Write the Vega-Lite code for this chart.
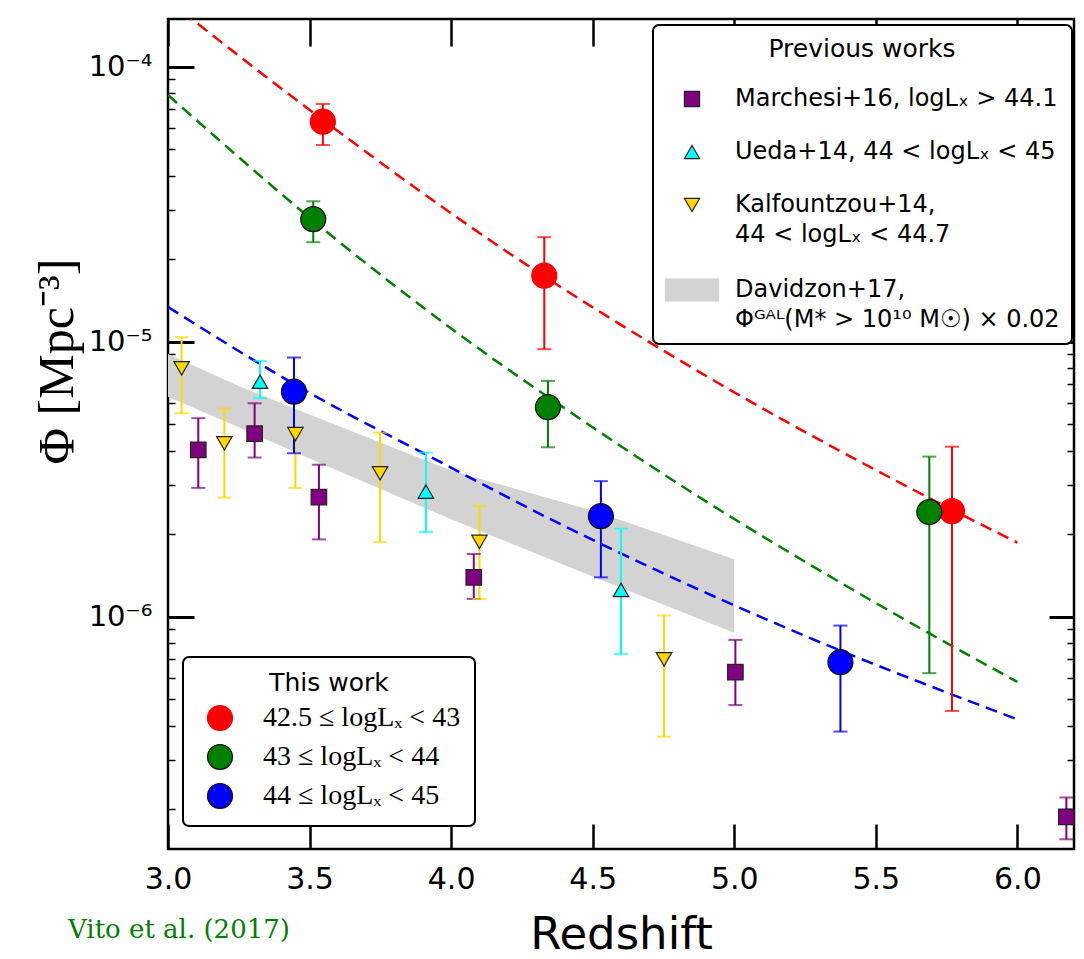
{
  "$schema": "https://vega.github.io/schema/vega-lite/v6.json",
  "width": 906,
  "height": 830,
  "autosize": {"type": "none"},
  "padding": {"left": 168, "top": 19, "right": 10, "bottom": 110},
  "background": "white",
  "title": {"text": "Vito et al. (2017)", "orient": "bottom", "anchor": "start", "frame": "group", "font": "DejaVu Serif", "fontSize": 26, "fontWeight": "normal", "color": "#008000", "dx": -100, "dy": -40, "offset": 0},
  "config": {
    "view": {"stroke": "black", "strokeWidth": 2.5},
    "axis": {"grid": false, "domain": false, "zindex": 2, "tickColor": "black", "labelColor": "black", "titleColor": "black", "labelFlush": false, "labelOverlap": false, "labelBound": false},
    "legend": {"strokeWidth": 2},
    "style": {"guide-label": {"lineHeight": 30}}
  },
  "datasets": {
    "band": [
      {"z": 3.0, "lo": 6.31e-6, "hi": 9.02e-6},
      {"z": 3.25, "lo": 4.88e-6, "hi": 6.9e-6},
      {"z": 3.5, "lo": 3.76e-6, "hi": 5.44e-6},
      {"z": 4.0, "lo": 2.26e-6, "hi": 3.40e-6},
      {"z": 4.5, "lo": 1.40e-6, "hi": 2.43e-6},
      {"z": 5.0, "lo": 8.73e-7, "hi": 1.616e-6}
    ],
    "fits": [
      {"z": 3.0, "phi": 1.748e-4, "bin": "42.5 ≤ logLₓ < 43"},
      {"z": 3.089, "phi": 1.478e-4, "bin": "42.5 ≤ logLₓ < 43"},
      {"z": 3.619, "phi": 5.64e-5, "bin": "42.5 ≤ logLₓ < 43"},
      {"z": 4.197, "phi": 2.125e-5, "bin": "42.5 ≤ logLₓ < 43"},
      {"z": 4.845, "phi": 8.11e-6, "bin": "42.5 ≤ logLₓ < 43"},
      {"z": 5.634, "phi": 2.888e-6, "bin": "42.5 ≤ logLₓ < 43"},
      {"z": 6.0, "phi": 1.86e-6, "bin": "42.5 ≤ logLₓ < 43"},
      {"z": 3.0, "phi": 7.89e-5, "bin": "43 ≤ logLₓ < 44"},
      {"z": 3.596, "phi": 2.344e-5, "bin": "43 ≤ logLₓ < 44"},
      {"z": 4.04, "phi": 1.042e-5, "bin": "43 ≤ logLₓ < 44"},
      {"z": 4.444, "phi": 5.34e-6, "bin": "43 ≤ logLₓ < 44"},
      {"z": 4.809, "phi": 3.012e-6, "bin": "43 ≤ logLₓ < 44"},
      {"z": 5.481, "phi": 1.15e-6, "bin": "43 ≤ logLₓ < 44"},
      {"z": 6.0, "phi": 5.79e-7, "bin": "43 ≤ logLₓ < 44"},
      {"z": 3.0, "phi": 1.337e-5, "bin": "44 ≤ logLₓ < 45"},
      {"z": 3.513, "phi": 6.4e-6, "bin": "44 ≤ logLₓ < 45"},
      {"z": 3.914, "phi": 3.873e-6, "bin": "44 ≤ logLₓ < 45"},
      {"z": 4.385, "phi": 2.173e-6, "bin": "44 ≤ logLₓ < 45"},
      {"z": 5.186, "phi": 9.075e-7, "bin": "44 ≤ logLₓ < 45"},
      {"z": 6.0, "phi": 4.23e-7, "bin": "44 ≤ logLₓ < 45"}
    ],
    "thiswork": [
      {"z": 3.547, "phi": 6.31e-5, "lo": 5.19e-5, "hi": 7.32e-5, "bin": "42.5 ≤ logLₓ < 43"},
      {"z": 4.329, "phi": 1.738e-5, "lo": 9.39e-6, "hi": 2.40e-5, "bin": "42.5 ≤ logLₓ < 43"},
      {"z": 5.769, "phi": 2.42e-6, "lo": 4.54e-7, "hi": 4.15e-6, "bin": "42.5 ≤ logLₓ < 43"},
      {"z": 3.513, "phi": 2.79e-5, "lo": 2.30e-5, "hi": 3.24e-5, "bin": "43 ≤ logLₓ < 44"},
      {"z": 4.342, "phi": 5.78e-6, "lo": 4.13e-6, "hi": 7.20e-6, "bin": "43 ≤ logLₓ < 44"},
      {"z": 5.689, "phi": 2.40e-6, "lo": 6.23e-7, "hi": 3.82e-6, "bin": "43 ≤ logLₓ < 44"},
      {"z": 3.445, "phi": 6.58e-6, "lo": 3.93e-6, "hi": 8.75e-6, "bin": "44 ≤ logLₓ < 45"},
      {"z": 4.529, "phi": 2.32e-6, "lo": 1.39e-6, "hi": 3.11e-6, "bin": "44 ≤ logLₓ < 45"},
      {"z": 5.375, "phi": 6.83e-7, "lo": 3.82e-7, "hi": 9.28e-7, "bin": "44 ≤ logLₓ < 45"}
    ],
    "prev": [
      {"z": 3.107, "phi": 4.04e-6, "lo": 2.94e-6, "hi": 5.27e-6, "work": "Marchesi+16"},
      {"z": 3.306, "phi": 4.63e-6, "lo": 3.79e-6, "hi": 5.97e-6, "work": "Marchesi+16"},
      {"z": 3.533, "phi": 2.72e-6, "lo": 1.91e-6, "hi": 3.57e-6, "work": "Marchesi+16"},
      {"z": 4.08, "phi": 1.39e-6, "lo": 1.16e-6, "hi": 1.69e-6, "work": "Marchesi+16"},
      {"z": 5.004, "phi": 6.28e-7, "lo": 4.77e-7, "hi": 8.23e-7, "work": "Marchesi+16"},
      {"z": 6.173, "phi": 1.87e-7, "lo": 1.55e-7, "hi": 2.20e-7, "work": "Marchesi+16"},
      {"z": 3.325, "phi": 7.15e-6, "lo": 6.23e-6, "hi": 8.51e-6, "work": "Ueda+14"},
      {"z": 3.911, "phi": 2.85e-6, "lo": 2.03e-6, "hi": 3.95e-6, "work": "Ueda+14"},
      {"z": 4.6, "phi": 1.25e-6, "lo": 7.32e-7, "hi": 2.09e-6, "work": "Ueda+14"},
      {"z": 3.048, "phi": 8.0e-6, "lo": 5.49e-6, "hi": 1.038e-5, "work": "Kalfountzou+14"},
      {"z": 3.199, "phi": 4.27e-6, "lo": 2.71e-6, "hi": 5.71e-6, "work": "Kalfountzou+14"},
      {"z": 3.45, "phi": 4.61e-6, "lo": 2.94e-6, "hi": 4.61e-6, "work": "Kalfountzou+14"},
      {"z": 3.749, "phi": 3.32e-6, "lo": 1.87e-6, "hi": 4.67e-6, "work": "Kalfountzou+14"},
      {"z": 4.1, "phi": 1.87e-6, "lo": 1.16e-6, "hi": 2.53e-6, "work": "Kalfountzou+14"},
      {"z": 4.752, "phi": 7.0e-7, "lo": 3.66e-7, "hi": 1.01e-6, "work": "Kalfountzou+14"}
    ]
  },
  "resolve": {
    "scale": {"color": "independent", "fill": "independent", "stroke": "independent", "shape": "independent"},
    "axis": {"x": "independent", "y": "independent"}
  },
  "layer": [
    {
      "data": {"name": "band"},
      "mark": {"type": "area", "color": "#d3d3d3", "opacity": 1},
      "encoding": {
        "x": {"field": "z", "type": "quantitative", "scale": {"type": "linear", "domain": [3, 6.2], "nice": false, "zero": false},
          "axis": {"orient": "bottom", "values": [3, 3.5, 4, 4.5, 5, 5.5, 6], "format": ".1f", "tickSize": -25, "tickWidth": 2.5, "labelPadding": 40, "labelFont": "DejaVu Sans", "labelFontSize": 30, "title": "Redshift", "titleFont": "DejaVu Sans", "titleFontSize": 45, "titleFontWeight": "normal", "titlePadding": 18}},
        "y": {"field": "hi", "type": "quantitative", "scale": {"type": "log", "domain": [1.429e-7, 1.491e-4], "nice": false},
          "axis": {"orient": "left", "values": [1e-6, 1e-5, 1e-4], "tickSize": -26, "tickWidth": 3, "labelPadding": 42, "labelFont": "DejaVu Sans", "labelFontSize": 29, "labelExpr": "datum.value < 5e-6 ? '10⁻⁶' : datum.value < 5e-5 ? '10⁻⁵' : '10⁻⁴'", "title": "Φ [Mpc⁻³]", "titleFont": "Liberation Serif", "titleFontSize": 50, "titleFontWeight": "normal", "titleAngle": -90, "titleX": -111, "titleY": 342, "titleAlign": "center", "titleBaseline": "middle"}},
        "y2": {"field": "lo"}
      }
    },
    {
      "data": {"name": "fits"},
      "mark": {"type": "line", "strokeDash": [12, 7], "strokeWidth": 2.5, "clip": true, "interpolate": "monotone"},
      "encoding": {
        "x": {"field": "z", "type": "quantitative", "scale": {"type": "linear", "domain": [3, 6.2], "nice": false, "zero": false},
          "axis": {"orient": "top", "values": [3, 3.5, 4, 4.5, 5, 5.5, 6], "tickSize": -27, "tickWidth": 2.5, "labels": false, "title": null}},
        "y": {"field": "phi", "type": "quantitative", "scale": {"type": "log", "domain": [1.429e-7, 1.491e-4], "nice": false},
          "axis": {"orient": "left", "values": [2e-7, 3e-7, 4e-7, 5e-7, 6e-7, 7e-7, 8e-7, 9e-7, 2e-6, 3e-6, 4e-6, 5e-6, 6e-6, 7e-6, 8e-6, 9e-6, 2e-5, 3e-5, 4e-5, 5e-5, 6e-5, 7e-5, 8e-5, 9e-5], "tickSize": -7, "tickWidth": 1.5, "labels": false, "title": null}},
        "color": {"field": "bin", "type": "nominal", "scale": {"domain": ["42.5 ≤ logLₓ < 43", "43 ≤ logLₓ < 44", "44 ≤ logLₓ < 45"], "range": ["#ff0000", "#008000", "#0000ff"]}, "legend": null}
      }
    },
    {
      "data": {"name": "prev"},
      "mark": {"type": "rule", "strokeWidth": 2},
      "encoding": {
        "x": {"field": "z", "type": "quantitative", "scale": {"type": "linear", "domain": [3, 6.2], "nice": false, "zero": false}, "axis": null},
        "y": {"field": "lo", "type": "quantitative", "scale": {"type": "log", "domain": [1.429e-7, 1.491e-4], "nice": false},
          "axis": {"orient": "right", "values": [1e-6, 1e-5, 1e-4], "tickSize": -25, "tickWidth": 3, "labels": false, "title": null}},
        "y2": {"field": "hi"},
        "color": {"field": "work", "type": "nominal", "scale": {"domain": ["Marchesi+16", "Ueda+14", "Kalfountzou+14", "Davidzon+17"], "range": ["#800080", "#00ffff", "#ffd700", "#d3d3d3"]}, "legend": null}
      }
    },
    {
      "data": {"name": "prev"},
      "mark": {"type": "tick", "orient": "horizontal", "size": 14, "thickness": 2},
      "encoding": {
        "x": {"field": "z", "type": "quantitative", "scale": {"type": "linear", "domain": [3, 6.2], "nice": false, "zero": false}, "axis": null},
        "y": {"field": "lo", "type": "quantitative", "scale": {"type": "log", "domain": [1.429e-7, 1.491e-4], "nice": false},
          "axis": {"orient": "right", "values": [2e-7, 3e-7, 4e-7, 5e-7, 6e-7, 7e-7, 8e-7, 9e-7, 2e-6, 3e-6, 4e-6, 5e-6, 6e-6, 7e-6, 8e-6, 9e-6, 2e-5, 3e-5, 4e-5, 5e-5, 6e-5, 7e-5, 8e-5, 9e-5], "tickSize": -7, "tickWidth": 1.5, "labels": false, "title": null}},
        "color": {"field": "work", "type": "nominal", "scale": {"domain": ["Marchesi+16", "Ueda+14", "Kalfountzou+14", "Davidzon+17"], "range": ["#800080", "#00ffff", "#ffd700", "#d3d3d3"]}, "legend": null}
      }
    },
    {
      "data": {"name": "prev"},
      "mark": {"type": "tick", "orient": "horizontal", "size": 14, "thickness": 2},
      "encoding": {
        "x": {"field": "z", "type": "quantitative", "scale": {"type": "linear", "domain": [3, 6.2], "nice": false, "zero": false}, "axis": null},
        "y": {"field": "hi", "type": "quantitative", "scale": {"type": "log", "domain": [1.429e-7, 1.491e-4], "nice": false}, "axis": null},
        "color": {"field": "work", "type": "nominal", "scale": {"domain": ["Marchesi+16", "Ueda+14", "Kalfountzou+14", "Davidzon+17"], "range": ["#800080", "#00ffff", "#ffd700", "#d3d3d3"]}, "legend": null}
      }
    },
    {
      "data": {"name": "thiswork"},
      "mark": {"type": "rule", "strokeWidth": 2},
      "encoding": {
        "x": {"field": "z", "type": "quantitative", "scale": {"type": "linear", "domain": [3, 6.2], "nice": false, "zero": false}, "axis": null},
        "y": {"field": "lo", "type": "quantitative", "scale": {"type": "log", "domain": [1.429e-7, 1.491e-4], "nice": false}, "axis": null},
        "y2": {"field": "hi"},
        "color": {"field": "bin", "type": "nominal", "scale": {"domain": ["42.5 ≤ logLₓ < 43", "43 ≤ logLₓ < 44", "44 ≤ logLₓ < 45"], "range": ["#ff0000", "#008000", "#0000ff"]}, "legend": null}
      }
    },
    {
      "data": {"name": "thiswork"},
      "mark": {"type": "tick", "orient": "horizontal", "size": 14, "thickness": 2},
      "encoding": {
        "x": {"field": "z", "type": "quantitative", "scale": {"type": "linear", "domain": [3, 6.2], "nice": false, "zero": false}, "axis": null},
        "y": {"field": "lo", "type": "quantitative", "scale": {"type": "log", "domain": [1.429e-7, 1.491e-4], "nice": false}, "axis": null},
        "color": {"field": "bin", "type": "nominal", "scale": {"domain": ["42.5 ≤ logLₓ < 43", "43 ≤ logLₓ < 44", "44 ≤ logLₓ < 45"], "range": ["#ff0000", "#008000", "#0000ff"]}, "legend": null}
      }
    },
    {
      "data": {"name": "thiswork"},
      "mark": {"type": "tick", "orient": "horizontal", "size": 14, "thickness": 2},
      "encoding": {
        "x": {"field": "z", "type": "quantitative", "scale": {"type": "linear", "domain": [3, 6.2], "nice": false, "zero": false}, "axis": null},
        "y": {"field": "hi", "type": "quantitative", "scale": {"type": "log", "domain": [1.429e-7, 1.491e-4], "nice": false}, "axis": null},
        "color": {"field": "bin", "type": "nominal", "scale": {"domain": ["42.5 ≤ logLₓ < 43", "43 ≤ logLₓ < 44", "44 ≤ logLₓ < 45"], "range": ["#ff0000", "#008000", "#0000ff"]}, "legend": null}
      }
    },
    {
      "data": {"name": "prev"},
      "mark": {"type": "point", "filled": true, "size": 240, "strokeWidth": 1.2, "opacity": 1},
      "encoding": {
        "x": {"field": "z", "type": "quantitative", "scale": {"type": "linear", "domain": [3, 6.2], "nice": false, "zero": false}, "axis": null},
        "y": {"field": "phi", "type": "quantitative", "scale": {"type": "log", "domain": [1.429e-7, 1.491e-4], "nice": false}, "axis": null},
        "shape": {"field": "work", "type": "nominal", "scale": {"domain": ["Marchesi+16", "Ueda+14", "Kalfountzou+14", "Davidzon+17"], "range": ["square", "triangle-up", "triangle-down", "M-3.5,-1.45H3.5V1.45H-3.5Z"]}, "legend": {"title": "Previous works"}},
        "stroke": {"field": "work", "type": "nominal", "scale": {"domain": ["Marchesi+16", "Ueda+14", "Kalfountzou+14", "Davidzon+17"], "range": ["#222222", "#222222", "#222222", "#d3d3d3"]}, "legend": {"title": "Previous works"}},
        "fill": {"field": "work", "type": "nominal", "scale": {"domain": ["Marchesi+16", "Ueda+14", "Kalfountzou+14", "Davidzon+17"], "range": ["#800080", "#00ffff", "#ffd700", "#d3d3d3"]},
          "legend": {"title": "Previous works", "orient": "none", "legendX": 485, "legendY": 6, "titleFont": "DejaVu Sans", "titleFontSize": 25, "titleFontWeight": "normal", "titleColor": "black", "titleAnchor": "middle", "titleLimit": 600, "titlePadding": 25, "labelFont": "DejaVu Sans", "labelFontSize": 24, "labelColor": "black", "labelLimit": 600, "labelExpr": "datum.label == 'Marchesi+16' ? 'Marchesi+16, logLₓ > 44.1' : datum.label == 'Ueda+14' ? 'Ueda+14, 44 < logLₓ < 45' : datum.label == 'Kalfountzou+14' ? ['Kalfountzou+14,', '44 < logLₓ < 44.7'] : ['Davidzon+17,', ' Φᴳᴬᴸ(M* > 10¹⁰ M☉) × 0.02']", "symbolSize": 230, "symbolStrokeWidth": 1.2, "symbolOffset": 15, "labelOffset": 31, "rowPadding": 29, "padding": 12, "strokeColor": "black", "cornerRadius": 6, "fillColor": "white"}}
      }
    },
    {
      "data": {"name": "thiswork"},
      "mark": {"type": "point", "shape": "circle", "filled": true, "size": 620, "strokeWidth": 1.3, "opacity": 1},
      "encoding": {
        "x": {"field": "z", "type": "quantitative", "scale": {"type": "linear", "domain": [3, 6.2], "nice": false, "zero": false}, "axis": null},
        "y": {"field": "phi", "type": "quantitative", "scale": {"type": "log", "domain": [1.429e-7, 1.491e-4], "nice": false}, "axis": null},
        "stroke": {"field": "bin", "type": "nominal", "scale": {"domain": ["42.5 ≤ logLₓ < 43", "43 ≤ logLₓ < 44", "44 ≤ logLₓ < 45"], "range": ["#ff0000", "#111111", "#111111"]}, "legend": {"title": "This work"}},
        "fill": {"field": "bin", "type": "nominal", "scale": {"domain": ["42.5 ≤ logLₓ < 43", "43 ≤ logLₓ < 44", "44 ≤ logLₓ < 45"], "range": ["#ff0000", "#008000", "#0000ff"]},
          "legend": {"title": "This work", "orient": "none", "legendX": 15, "legendY": 638, "titleFont": "DejaVu Sans", "titleFontSize": 25, "titleFontWeight": "normal", "titleColor": "black", "titleAnchor": "middle", "titleLimit": 600, "titlePadding": 8, "labelFont": "Liberation Serif", "labelFontSize": 28, "labelColor": "black", "labelLimit": 600, "symbolType": "circle", "symbolSize": 620, "symbolStrokeWidth": 1.3, "symbolOffset": 9, "labelOffset": 29, "rowPadding": 7, "padding": 14, "strokeColor": "black", "cornerRadius": 6, "fillColor": "white"}}
      }
    }
  ]
}
